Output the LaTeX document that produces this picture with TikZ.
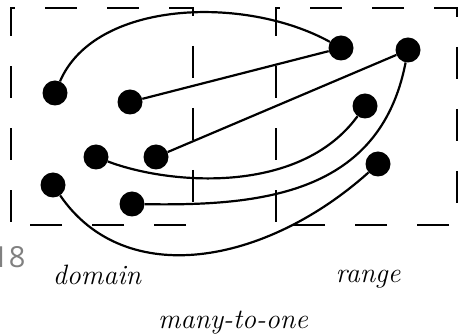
\documentclass[tikz,border=0pt]{standalone}
\usepackage{fontspec}
\newfontfamily\pagenumfont{Open Sans}
\definecolor{pagegray}{gray}{0.5}

\begin{document}
\begin{tikzpicture}[x=1pt,y=-1pt,
	elem/.style={circle,fill=black,inner sep=0pt,minimum size=25pt},
	mapline/.style={line width=2.2pt},
	setbox/.style={line width=2.6pt,dash pattern=on 32pt off 30pt,dash phase=59pt},
	lbl/.style={font=\fontsize{28}{30}\selectfont\itshape,inner sep=0pt}]
	\useasboundingbox (0,0) rectangle (458,336);
	% the two sets
	\draw[setbox] (11,225) -- (11,8) -- (193,8) -- (193,225) -- cycle;
	\draw[setbox] (276,225) -- (276,8) -- (457,8) -- (457,225) -- cycle;
	% domain
	\node[elem] (d1) at (55,93) {};
	\node[elem] (d2) at (130,102) {};
	\node[elem] (d3) at (96,157) {};
	\node[elem] (d4) at (156,157) {};
	\node[elem] (d5) at (53,185) {};
	\node[elem] (d6) at (132,204) {};
	% range
	\node[elem] (r1) at (341,48) {};
	\node[elem] (r2) at (408,50) {};
	\node[elem] (r3) at (365,106) {};
	\node[elem] (r4) at (378,164) {};
	% mapping
	\draw[mapline] (d1) .. controls (95,0) and (245,-5) .. (r1);
	\draw[mapline] (d2) -- (r1);
	\draw[mapline] (d4) -- (r2);
	\draw[mapline] (d3) .. controls (170,185) and (300,195) .. (r3);
	\draw[mapline] (d6) .. controls (260,206) and (380,195) .. (r2);
	\draw[mapline] (d5) .. controls (125,290) and (265,265) .. (r4);
	% labels
	\node[lbl,anchor=base] (dom) at (97,285) {domain};
	\node[lbl,anchor=base] (ran) at (368,283) {range};
	\node[lbl,anchor=base] (kind) at (233,329) {many-to-one};
	\node[anchor=base west,inner sep=0pt,text=pagegray,font=\pagenumfont\fontsize{29}{30}\selectfont] (pnum) at (-8,268) {18};
\end{tikzpicture}
\end{document}
